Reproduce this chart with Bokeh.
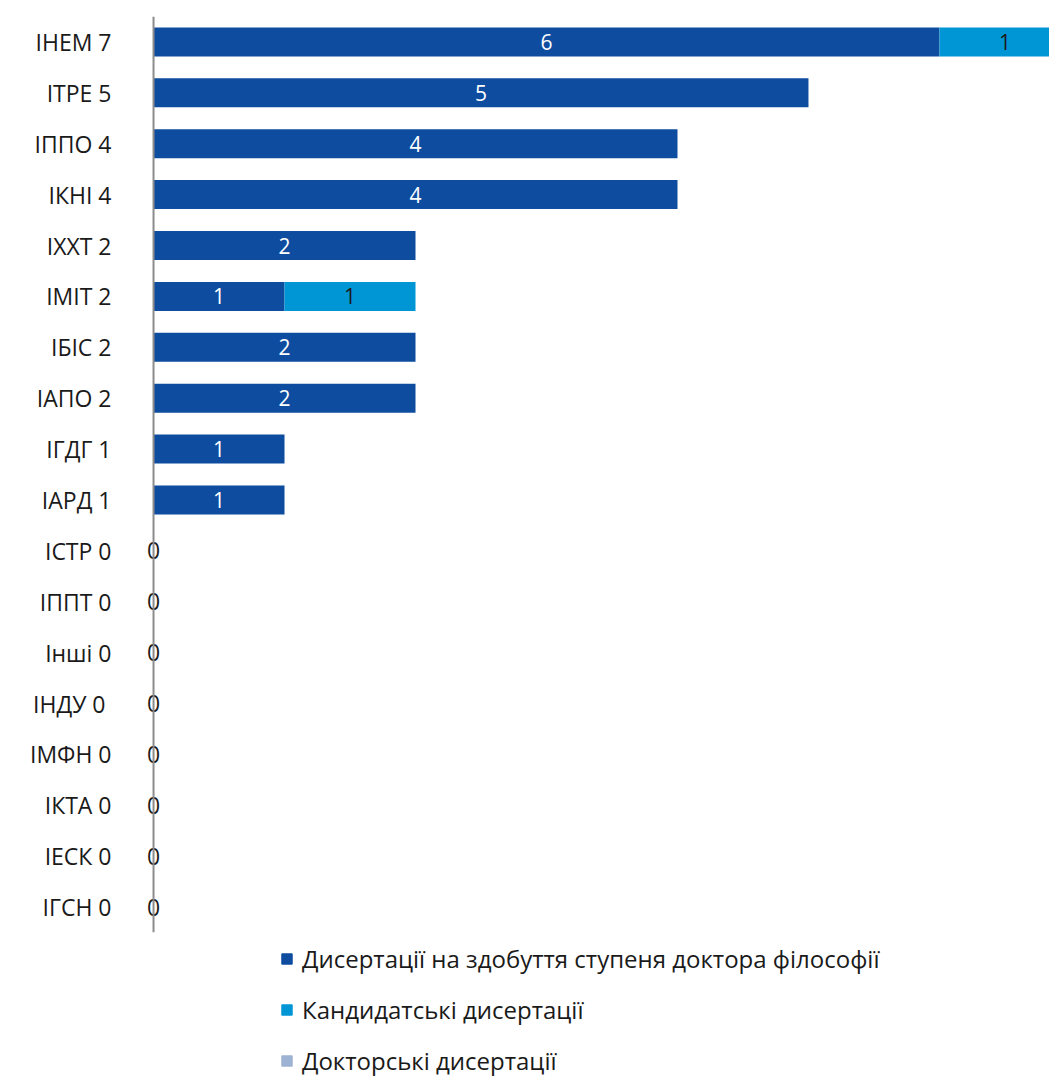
from bokeh.plotting import figure
from bokeh.models import ColumnDataSource, Legend, LegendItem, Range1d, FactorRange, Span
from bokeh.layouts import column
from bokeh.core.properties import value
from bokeh.embed import file_html
from bokeh.resources import INLINE

categories = ["ІНЕМ 7", "ІТРЕ 5", "ІППО 4", "ІКНІ 4", "ІХХТ 2", "ІМІТ 2", "ІБІС 2", "ІАПО 2",
              "ІГДГ 1", "ІАРД 1", "ІСТР 0", "ІППТ 0", "Інші 0", "ІНДУ  0", "ІМФН 0", "ІКТА 0",
              "ІЕСК 0", "ІГСН 0"]
phd = [6, 5, 4, 4, 2, 1, 2, 2, 1, 1, 0, 0, 0, 0, 0, 0, 0, 0]
cand = [1, 0, 0, 0, 0, 1, 0, 0, 0, 0, 0, 0, 0, 0, 0, 0, 0, 0]
doc = [0, 0, 0, 0, 0, 0, 0, 0, 0, 0, 0, 0, 0, 0, 0, 0, 0, 0]
series_names = ["Дисертації на здобуття ступеня доктора філософії",
                "Кандидатські дисертації",
                "Докторські дисертації"]
colors = ["#0D4C9F", "#0096D6", "#9DB3D3"]

FONT = "Open Sans"
TEXT = "#1a1a1a"

source = ColumnDataSource(dict(cat=categories, phd=phd, cand=cand, doc=doc))

p = figure(width=1049, height=940, output_backend="svg", toolbar_location=None,
           y_range=FactorRange(*reversed(categories), range_padding=0),
           x_range=Range1d(-0.13, 6.84),
           min_border_left=136, min_border_right=0, min_border_top=16, min_border_bottom=8)

rs = p.hbar_stack(["phd", "cand", "doc"], y="cat", height=0.57, color=colors, source=source,
                  line_color=None)

# vertical category axis line at x = 0
p.add_layout(Span(location=0, dimension="height", line_color="#8c8c8c", line_width=2))

# data labels
lx, ly, lt, lc, ls = [], [], [], [], []
for c, a, b, d in zip(categories, phd, cand, doc):
    if a > 0:
        lx.append(a / 2); ly.append(c); lt.append(str(a)); lc.append("white"); ls.append("21px")
    if b > 0:
        lx.append(a + b / 2); ly.append(c); lt.append(str(b)); lc.append(TEXT); ls.append("21px")
    if d > 0:
        lx.append(a + b + d / 2); ly.append(c); lt.append(str(d)); lc.append(TEXT); ls.append("21px")
    if a + b + d == 0:
        lx.append(0); ly.append(c); lt.append("0"); lc.append(TEXT); ls.append("23px")
lsrc = ColumnDataSource(dict(x=lx, y=ly, t=lt, c=lc, s=ls))
p.text(x="x", y="y", text="t", text_color="c", text_font_size="s", source=lsrc,
       text_align="center", text_baseline="middle", text_font=value(FONT))

p.xaxis.visible = False
p.xgrid.grid_line_color = None
p.ygrid.grid_line_color = None
p.outline_line_color = None
p.yaxis.axis_line_color = None
p.yaxis.major_tick_line_color = None
p.yaxis.minor_tick_line_color = None
p.yaxis.major_tick_out = 0
p.yaxis.major_tick_in = 0
p.yaxis.major_label_standoff = 25
p.yaxis.major_label_text_font = FONT
p.yaxis.major_label_text_font_size = "23px"
p.yaxis.major_label_text_color = TEXT

# legend panel below the chart
pl = figure(width=1049, height=137, output_backend="svg", toolbar_location=None,
            x_range=Range1d(0, 1), y_range=Range1d(0, 1),
            min_border_left=0, min_border_right=0, min_border_top=0, min_border_bottom=0)
pl.axis.visible = False
pl.grid.grid_line_color = None
pl.outline_line_color = None
# legend proxies placed outside the visible range
proxies = [pl.hbar(y=[-5], left=[0], right=[0.1], height=0.5, color=c) for c in colors]
legend = Legend(items=[LegendItem(label=n, renderers=[r]) for n, r in zip(series_names, proxies)],
                location=(144, 0), orientation="vertical", padding=0, margin=0,
                spacing=18, glyph_width=13, glyph_height=13, label_height=25,
                label_standoff=9, label_text_font=FONT, label_text_font_size="24px",
                label_text_color=TEXT, border_line_color=None,
                background_fill_alpha=0)
pl.add_layout(legend, "center")

open("out.html", "w").write(file_html(column(p, pl, spacing=0), INLINE))
